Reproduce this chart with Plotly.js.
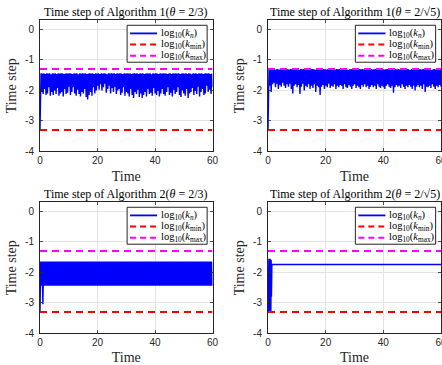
<!DOCTYPE html>
<html>
<head>
<meta charset="utf-8">
<script src="https://cdn.plot.ly/plotly-3.0.1.min.js"></script>
<style>
html,body{margin:0;padding:0;background:#fff;}
#chart{width:442px;height:365px;}
</style>
</head>
<body>
<div id="chart"></div>
<script>
// ---------------- data ----------------
const kMaxLog = -1.3;   // log10(k_max)
const kMinLog = -3.3;   // log10(k_min)
const tEnd = 60;

// Algorithm 1, theta = 2/3 : start-up then dense oscillation band
const a1aStartT = [0, 0.1, 0.2];
const a1aStartY = [-3.3, -2.6, -1.9];
const a1aHigh = [-1.44,-1.45,-1.44,-1.46,-1.44,-1.45,-1.44,-1.47,-1.44,-1.45,
-1.44,-1.46,-1.44,-1.45,-1.44,-1.44,-1.46,-1.45,-1.44,-1.45,
-1.44,-1.45,-1.46,-1.44,-1.45,-1.44,-1.47,-1.44,-1.45,-1.44,
-1.45,-1.44,-1.46,-1.45,-1.44,-1.45,-1.44,-1.46,-1.44,-1.45,
-1.44,-1.46,-1.44,-1.45,-1.44,-1.45,-1.47,-1.44,-1.45,-1.44,
-1.45,-1.44,-1.46,-1.44,-1.45,-1.44,-1.45,-1.46,-1.44,-1.45,
-1.44,-1.45,-1.44,-1.46,-1.45,-1.44,-1.45,-1.44,-1.46,-1.44,
-1.45,-1.44,-1.46,-1.45,-1.44,-1.45,-1.44,-1.47,-1.44,-1.45,
-1.44,-1.45,-1.46,-1.44,-1.45,-1.44,-1.45,-1.44,-1.46,-1.45,
-1.44,-1.46,-1.44,-1.45,-1.44,-1.45,-1.44,-1.46,-1.45,-1.44,
-1.45,-1.44,-1.46,-1.44,-1.45,-1.47,-1.44,-1.45,-1.44,-1.46,
-1.44,-1.45,-1.44,-1.46,-1.45,-1.44,-1.45,-1.44,-1.46,-1.45];
const a1aLow = [-2.05,-2.12,-1.95,-2.15,-2.1,-1.9,-2.18,-2.05,-2.15,-2.0,
-2.12,-1.92,-2.18,-2.1,-2.05,-2.2,-1.95,-2.12,-2.08,-1.88,
-2.15,-2.05,-1.9,-2.1,-2.18,-1.98,-2.12,-2.2,-2.05,-2.1,
-1.95,-2.22,-2.3,-2.15,-2.05,-2.18,-1.9,-2.1,-2.0,-1.85,
-1.98,-1.8,-2.0,-1.9,-1.78,-2.08,-1.95,-1.85,-2.1,-1.92,
-2.05,-1.88,-2.12,-2.0,-1.95,-2.15,-2.08,-1.9,-2.18,-2.05,
-2.1,-2.2,-1.95,-2.15,-2.25,-2.05,-2.12,-1.98,-2.22,-2.1,
-2.25,-2.15,-2.05,-2.2,-1.95,-2.12,-2.08,-2.18,-1.92,-2.1,
-2.15,-2.02,-2.2,-2.1,-1.95,-2.12,-2.18,-2.05,-1.9,-2.15,
-2.08,-2.2,-1.98,-2.12,-2.05,-1.9,-2.15,-2.22,-2.0,-2.1,
-2.18,-1.95,-2.25,-2.1,-2.05,-1.92,-2.15,-2.02,-2.12,-1.88,
-2.2,-2.05,-1.95,-2.15,-2.1,-1.85,-2.05,-1.98,-2.12,-1.9];

// Algorithm 1, theta = 2/sqrt(5)
const a1bStartT = [0, 0.1, 0.2];
const a1bStartY = [-3.3, -1.6, -2.2];
const a1bHigh = [-1.31,-1.32,-1.3,-1.31,-1.33,-1.31,-1.3,-1.32,-1.31,-1.3,
-1.32,-1.31,-1.3,-1.31,-1.32,-1.3,-1.31,-1.33,-1.31,-1.3,
-1.31,-1.32,-1.3,-1.31,-1.3,-1.32,-1.31,-1.3,-1.33,-1.31,
-1.3,-1.31,-1.32,-1.3,-1.31,-1.3,-1.32,-1.31,-1.3,-1.31,
-1.32,-1.3,-1.31,-1.33,-1.3,-1.31,-1.32,-1.3,-1.31,-1.3,
-1.31,-1.32,-1.3,-1.31,-1.3,-1.33,-1.31,-1.3,-1.32,-1.31,
-1.3,-1.31,-1.32,-1.3,-1.31,-1.3,-1.32,-1.31,-1.3,-1.33,
-1.31,-1.3,-1.32,-1.31,-1.3,-1.31,-1.32,-1.3,-1.31,-1.3,
-1.32,-1.31,-1.3,-1.31,-1.33,-1.3,-1.31,-1.32,-1.3,-1.31,
-1.3,-1.32,-1.31,-1.3,-1.31,-1.32,-1.3,-1.31,-1.33,-1.3,
-1.31,-1.3,-1.32,-1.31,-1.3,-1.31,-1.32,-1.3,-1.31,-1.3,
-1.32,-1.31,-1.3,-1.33,-1.31,-1.3,-1.32,-1.31,-1.3,-1.31];
const a1bLow = [-1.85,-2.05,-1.8,-1.75,-1.9,-1.78,-1.95,-1.82,-1.88,-1.75,
-1.85,-1.92,-1.8,-1.88,-1.78,-1.95,-2.1,-1.85,-1.8,-1.9,
-1.82,-2.12,-1.88,-1.78,-2.0,-1.85,-1.9,-1.8,-1.95,-1.85,
-1.92,-1.8,-2.05,-1.85,-1.9,-2.15,-1.88,-1.82,-1.95,-1.85,
-1.9,-1.78,-1.92,-1.85,-1.88,-1.8,-1.95,-1.85,-1.9,-1.82,
-1.85,-1.95,-1.8,-1.9,-1.92,-1.82,-1.88,-1.95,-1.85,-1.8,
-1.92,-1.85,-1.9,-1.95,-1.82,-1.88,-1.8,-1.9,-1.85,-1.95,
-1.88,-1.82,-1.9,-1.85,-1.95,-1.8,-1.88,-1.92,-1.85,-1.9,
-1.95,-1.85,-1.8,-1.88,-1.92,-1.85,-2.08,-1.9,-1.82,-1.88,
-1.85,-1.92,-1.8,-1.88,-1.95,-1.85,-1.9,-1.82,-1.88,-1.95,
-1.85,-2.0,-1.88,-1.82,-1.9,-1.85,-1.95,-1.8,-2.05,-1.88,
-1.9,-1.85,-1.92,-1.8,-1.88,-1.95,-1.85,-1.9,-1.82,-1.88];

// Algorithm 2, theta = 2/3 : start-up, then oscillation between two levels
const a2aStartT = [0, 0.1];
const a2aStartY = [-3.3, -1.65];
const a2aHigh = [-1.64,-1.64,-1.64,-1.64,-1.64,-1.64,-1.64,-1.64,-1.64,-1.64,
-1.64,-1.64,-1.64,-1.64,-1.64,-1.64,-1.64,-1.64,-1.64,-1.64,
-1.64,-1.64,-1.64,-1.64,-1.64,-1.64,-1.64,-1.64,-1.64,-1.64,
-1.64,-1.64,-1.64,-1.64,-1.64,-1.64,-1.64,-1.64,-1.64,-1.64,
-1.64,-1.64,-1.64,-1.64,-1.64,-1.64,-1.64,-1.64,-1.64,-1.64,
-1.64,-1.64,-1.64,-1.64,-1.64,-1.64,-1.64,-1.64,-1.64,-1.64,
-1.64,-1.64,-1.64,-1.64,-1.64,-1.64,-1.64,-1.64,-1.64,-1.64,
-1.64,-1.64,-1.64,-1.64,-1.64,-1.64,-1.64,-1.64,-1.64,-1.64,
-1.64,-1.64,-1.64,-1.64,-1.64,-1.64,-1.64,-1.64,-1.64,-1.64,
-1.64,-1.64,-1.64,-1.64,-1.64,-1.64,-1.64,-1.64,-1.64,-1.64,
-1.64,-1.64,-1.64,-1.64,-1.64,-1.64,-1.64,-1.64,-1.64,-1.64,
-1.64,-1.64,-1.64,-1.64,-1.64,-1.64,-1.64,-1.64,-1.64,-1.64];
const a2aLow = [-2.44,-3.05,-2.44,-2.44,-2.44,-2.44,-2.44,-2.44,-2.44,-2.44,
-2.44,-2.44,-2.44,-2.44,-2.44,-2.44,-2.44,-2.44,-2.44,-2.44,
-2.44,-2.44,-2.44,-2.44,-2.44,-2.44,-2.44,-2.44,-2.44,-2.44,
-2.44,-2.44,-2.44,-2.44,-2.44,-2.44,-2.44,-2.44,-2.44,-2.44,
-2.44,-2.44,-2.44,-2.44,-2.44,-2.44,-2.44,-2.44,-2.44,-2.44,
-2.44,-2.44,-2.44,-2.44,-2.44,-2.44,-2.44,-2.44,-2.44,-2.44,
-2.44,-2.44,-2.44,-2.44,-2.44,-2.44,-2.44,-2.44,-2.44,-2.44,
-2.44,-2.44,-2.44,-2.44,-2.44,-2.44,-2.44,-2.44,-2.44,-2.44,
-2.44,-2.44,-2.44,-2.44,-2.44,-2.44,-2.44,-2.44,-2.44,-2.44,
-2.44,-2.44,-2.44,-2.44,-2.44,-2.44,-2.44,-2.44,-2.44,-2.44,
-2.44,-2.44,-2.44,-2.44,-2.44,-2.44,-2.44,-2.44,-2.44,-2.44,
-2.44,-2.44,-2.44,-2.44,-2.44,-2.44,-2.44,-2.44,-2.44,-2.44];

// Algorithm 2, theta = 2/sqrt(5) : short start-up oscillation then constant step
const a2bT = [0, 0.1, 0.2, 0.3, 0.4, 0.5, 0.6, 0.7, 0.8, 0.9, 1.0, 1.1, 1.2, 1.35, 60];
const a2bY = [-3.3, -1.58, -3.3, -1.55, -3.3, -1.55, -3.3, -1.55, -3.25, -1.58, -3.3, -1.6, -2.8, -1.74, -1.74];

const xTicks = [0, 20, 40, 60];
const yTicks = [-4, -3, -2, -1, 0];
const yTickText = ['-4', '-3', '-2', '-1', '0'];

const titles = [
  'Time step of Algorithm 1(<i>θ</i> = 2/3)',
  'Time step of Algorithm 1(<i>θ</i> = 2/√5)',
  'Time step of Algorithm 2(<i>θ</i> = 2/3)',
  'Time step of Algorithm 2(<i>θ</i> = 2/√5)'
];
const legendLabels = [
  'log<sub>10</sub>(<i>k</i><sub><i>n</i></sub>)',
  'log<sub>10</sub>(<i>k</i><sub>min</sub>)',
  'log<sub>10</sub>(<i>k</i><sub>max</sub>)'
];

// ---------------- build series ----------------
function bandSeries(startT, startY, highs, lows, tStart) {
  const x = startT.slice(), y = startY.slice();
  const n = highs.length;
  const step = (tEnd - tStart) / (n - 0.5);
  for (let i = 0; i < n; i++) {
    x.push(tStart + i * step);        y.push(highs[i]);
    x.push(tStart + (i + 0.5) * step); y.push(lows[i]);
  }
  return {x, y};
}
const s1 = bandSeries(a1aStartT, a1aStartY, a1aHigh, a1aLow, 0.35);
const s2 = bandSeries(a1bStartT, a1bStartY, a1bHigh, a1bLow, 0.35);
const s3 = bandSeries(a2aStartT, a2aStartY, a2aHigh, a2aLow, 0.25);
const s4 = {x: a2bT, y: a2bY};
const series = [s1, s2, s3, s4];

const BLUE = '#0000ff', RED = '#ff0000', MAG = '#ff00ff';
const AX = '#262626';
const SERIF = '"Liberation Serif", "DejaVu Serif", serif';
const SANS = '"Liberation Sans", Arial, sans-serif';

const W = 442, H = 365;
// plot boxes in pixels [left, right, top, bottom]
const boxes = [
  [40, 212.5, 20.3, 151.3],
  [268, 441, 20.3, 151.3],
  [40, 212.5, 202.3, 333.3],
  [268, 441, 202.3, 333.3]
];

const traces = [];
const layout = {
  width: W, height: H,
  margin: {l: 0, r: 0, t: 0, b: 0},
  paper_bgcolor: '#fff', plot_bgcolor: '#fff',
  showlegend: false,
  shapes: [], annotations: []
};

series.forEach((s, k) => {
  const idx = k + 1;
  const xa = 'x' + (idx === 1 ? '' : idx), ya = 'y' + (idx === 1 ? '' : idx);
  const xKey = 'xaxis' + (idx === 1 ? '' : idx), yKey = 'yaxis' + (idx === 1 ? '' : idx);
  traces.push({x: s.x, y: s.y, xaxis: xa, yaxis: ya, type: 'scatter', mode: 'lines',
    line: {color: BLUE, width: 1.4}, hoverinfo: 'skip'});
  traces.push({x: [0, tEnd], y: [kMinLog, kMinLog], xaxis: xa, yaxis: ya, type: 'scatter', mode: 'lines',
    line: {color: RED, width: 2, dash: '7px,5px'}, hoverinfo: 'skip'});
  traces.push({x: [0, tEnd], y: [kMaxLog, kMaxLog], xaxis: xa, yaxis: ya, type: 'scatter', mode: 'lines',
    line: {color: MAG, width: 2, dash: '7px,5px'}, hoverinfo: 'skip'});

  const b = boxes[k];
  const common = {
    showline: true, linecolor: AX, linewidth: 1, mirror: 'allticks',
    ticks: 'inside', ticklen: 3, tickcolor: AX, tickwidth: 0.8,
    showgrid: true, gridcolor: '#e3e3e3', gridwidth: 1, zeroline: false,
    tickfont: {family: SANS, size: 10, color: AX}, ticklabeloverflow: 'allow'
  };
  layout[xKey] = Object.assign({}, common, {
    domain: [b[0] / W, b[1] / W], anchor: ya, range: [0, tEnd],
    tickvals: xTicks, ticktext: xTicks.map(String),
    title: {text: 'Time', font: {family: SERIF, size: 14, color: AX}, standoff: 5}
  });
  layout[yKey] = Object.assign({}, common, {
    domain: [1 - b[3] / H, 1 - b[2] / H], anchor: xa, range: [-4, 0.3],
    tickvals: yTicks, ticktext: yTickText, ticklabelstandoff: 3,
    title: {text: 'Time step', font: {family: SERIF, size: 14, color: AX}, standoff: 5}
  });

  // subplot title
  layout.annotations.push({
    xref: 'paper', yref: 'paper', x: (b[0] + b[1]) / 2 / W, y: 1 - (b[2] - 8.5) / H,
    xanchor: 'center', yanchor: 'middle', showarrow: false,
    text: titles[k], font: {family: SERIF, size: 12, color: '#000'}
  });

  // legend box (drawn in axis-domain coordinates)
  const xd = xa + ' domain', yd = ya + ' domain';
  layout.shapes.push({type: 'rect', xref: xd, yref: yd, x0: 0.505, x1: 0.969, y0: 0.68, y1: 0.962,
    line: {color: AX, width: 1}, fillcolor: '#fff', layer: 'above'});
  const rows = [0.9, 0.815, 0.73];
  const cols = [BLUE, RED, MAG];
  rows.forEach((ry, j) => {
    layout.shapes.push({type: 'line', xref: xd, yref: yd, x0: 0.522, x1: 0.679, y0: ry, y1: ry,
      line: {color: cols[j], width: j === 0 ? 1.8 : 2, dash: j === 0 ? 'solid' : '6px,4px'}, layer: 'above'});
    layout.annotations.push({xref: xd, yref: yd, x: 0.69, y: ry, xanchor: 'left', yanchor: 'middle',
      showarrow: false, text: legendLabels[j], font: {family: SERIF, size: 10.5, color: '#000'}});
  });
});

Plotly.newPlot('chart', traces, layout, {staticPlot: true, displayModeBar: false});
</script>
</body>
</html>
